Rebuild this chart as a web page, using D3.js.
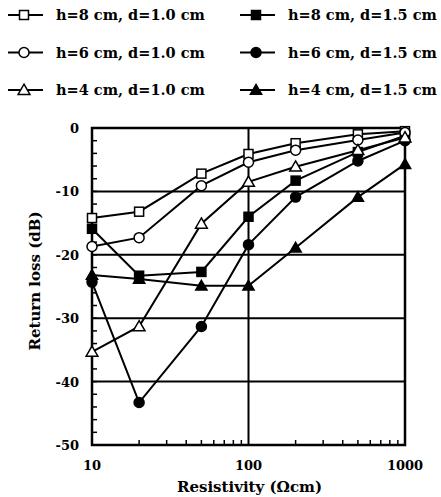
<!DOCTYPE html>
<html><head><meta charset="utf-8">
<script src="https://cdn.jsdelivr.net/npm/d3@7"></script>
<style>body{margin:0;background:#fff}svg{display:block}text{font-family:"DejaVu Serif",serif;font-weight:bold;fill:#000}</style>
</head><body><svg id="c" width="441" height="497"></svg>
<script>
const resistivity = [10, 20, 50, 100, 200, 500, 1000];
const seriesNames = ["h=8 cm, d=1.0 cm","h=8 cm, d=1.5 cm","h=6 cm, d=1.0 cm","h=6 cm, d=1.5 cm","h=4 cm, d=1.0 cm","h=4 cm, d=1.5 cm"];
const h8d10 = [-14.2, -13.2, -7.2, -4.1, -2.4, -1.0, -0.5];
const h8d15 = [-15.9, -23.3, -22.7, -14.0, -8.3, -3.8, -1.2];
const h6d10 = [-18.7, -17.3, -9.1, -5.4, -3.5, -1.9, -0.7];
const h6d15 = [-24.3, -43.3, -31.3, -18.4, -10.9, -5.2, -2.0];
const h4d10 = [-35.3, -31.3, -15.1, -8.5, -6.1, -3.5, -1.5];
const h4d15 = [-23.2, -23.8, -24.9, -24.9, -18.9, -10.9, -5.7];
const xTicks = [10, 100, 1000];
const yTicks = [0, -10, -20, -30, -40, -50];
const xLabel = "Resistivity (\u03A9cm)";
const yLabel = "Return loss (dB)";

const series = [
  {name: seriesNames[0], values: h8d10, shape: "square", filled: false},
  {name: seriesNames[1], values: h8d15, shape: "square", filled: true},
  {name: seriesNames[2], values: h6d10, shape: "circle", filled: false},
  {name: seriesNames[3], values: h6d15, shape: "circle", filled: true},
  {name: seriesNames[4], values: h4d10, shape: "triangle", filled: false},
  {name: seriesNames[5], values: h4d15, shape: "triangle", filled: true}
];

const svg = d3.select("#c");
const L = 92, R = 405, T = 128, B = 445;
const x = d3.scaleLog().domain([10, 1000]).range([L, R]);
const y = d3.scaleLinear().domain([-50, 0]).range([B, T]);

function marker(g, shape, filled, cx, cy) {
  const fill = filled ? "#000" : "#fff";
  let el;
  if (shape === "square") {
    el = g.append("rect").attr("x", cx - 4.5).attr("y", cy - 4.5).attr("width", 9).attr("height", 9);
  } else if (shape === "circle") {
    el = g.append("circle").attr("cx", cx).attr("cy", cy).attr("r", 5);
  } else {
    el = g.append("path").attr("d", d3.symbol().type(d3.symbolTriangle).size(filled ? 55 : 60)()).attr("transform", `translate(${cx},${cy + 1})`);
  }
  el.attr("fill", fill).attr("stroke", "#000").attr("stroke-width", 1.5);
}

// grid
const grid = svg.append("g").attr("stroke", "#000").attr("stroke-width", 2);
[-10, -20, -30, -40].forEach(v => grid.append("line").attr("x1", L).attr("x2", R).attr("y1", y(v)).attr("y2", y(v)));
grid.append("line").attr("x1", x(100)).attr("x2", x(100)).attr("y1", T).attr("y2", B);

// minor ticks
const ticks = svg.append("g").attr("stroke", "#000").attr("stroke-width", 1.5);
d3.range(-48, 0, 2).forEach(v => ticks.append("line").attr("x1", L).attr("x2", L + 5).attr("y1", y(v)).attr("y2", y(v)));
const minorX = [];
[10, 100].forEach(d => { for (let k = 2; k <= 9; k++) minorX.push(d * k); });
minorX.forEach(v => ticks.append("line").attr("x1", x(v)).attr("x2", x(v)).attr("y1", B).attr("y2", B - 5));

// frame
svg.append("rect").attr("x", L).attr("y", T).attr("width", R - L).attr("height", B - T)
  .attr("fill", "none").attr("stroke", "#000").attr("stroke-width", 2.5);

// axis labels
svg.append("g").selectAll("text").data(yTicks).join("text")
  .attr("x", 79).attr("y", d => y(d) + 5).attr("text-anchor", "end").attr("font-size", 13).text(d => d);
svg.append("g").selectAll("text").data(xTicks).join("text")
  .attr("x", d => x(d)).attr("y", 470).attr("text-anchor", "middle").attr("font-size", 13).text(d => d);
svg.append("text").attr("x", (L + R) / 2 + 1).attr("y", 492).attr("text-anchor", "middle").attr("font-size", 15).text(xLabel);
svg.append("text").attr("transform", `translate(40,281) rotate(-90)`).attr("text-anchor", "middle").attr("font-size", 15).text(yLabel);

// series
const line = d3.line().x((d, i) => x(resistivity[i])).y(d => y(d));
series.forEach(s => {
  const g = svg.append("g");
  g.append("path").attr("d", line(s.values)).attr("fill", "none").attr("stroke", "#000").attr("stroke-width", 2);
  s.values.forEach((v, i) => marker(g, s.shape, s.filled, x(resistivity[i]), y(v)));
});

// legend
series.forEach((s, i) => {
  const col = i % 2, row = Math.floor(i / 2);
  const lx = col === 0 ? 8 : 240;
  const ly = 15 + row * 37.5;
  const g = svg.append("g");
  g.append("line").attr("x1", lx).attr("x2", lx + 35).attr("y1", ly).attr("y2", ly).attr("stroke", "#000").attr("stroke-width", 2);
  marker(g, s.shape, s.filled, lx + 16, ly);
  g.append("text").attr("x", lx + 48).attr("y", ly + 5).attr("font-size", 14.5).text(s.name);
});
</script></body></html>
